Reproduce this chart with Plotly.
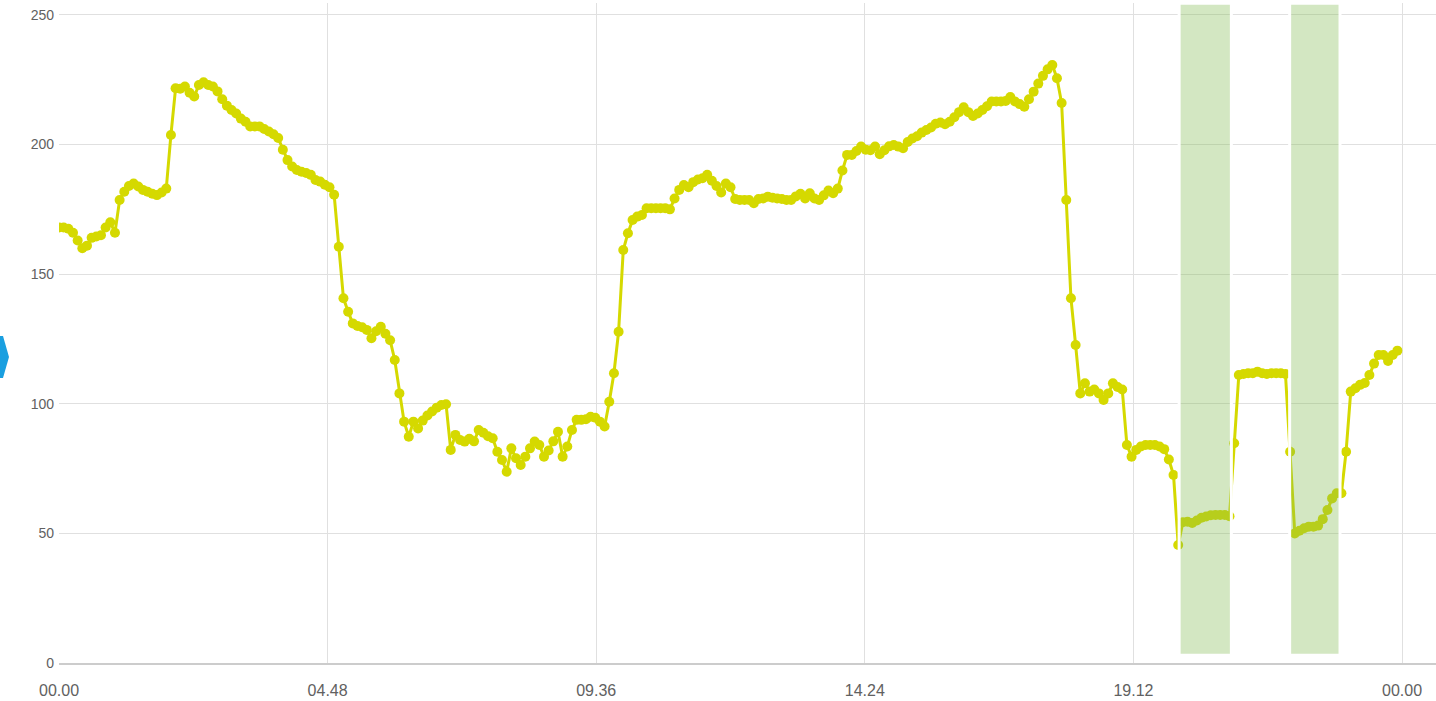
import pandas as pd
import plotly.graph_objects as go

# ---- data (5-minute readings, 00:00 .. 23:55) ----
start_time = "2024-01-01 00:00"
step = "5min"
values = [
    168, 168, 167.5, 166, 163, 160, 161, 164, 164.5, 165, 168, 170, 166, 178.6, 181.8, 184,
    185, 183.8, 182.5, 181.8, 181, 180.5, 181.5, 183, 203.7, 221.7, 221.5, 222.4, 220, 218.5,
    223, 224, 223, 222.4, 220.5, 217.5, 215, 213.3, 212, 210, 208.8, 207, 207, 207, 206, 205,
    204, 202.5, 198, 194, 191.5, 190.2, 189.5, 189, 188.3, 186.3, 185.7, 184.5, 183.5, 180.6,
    160.6, 140.7, 135.5, 131, 130, 129.5, 128.5, 125.3, 128, 129.7, 127, 124.5, 116.9, 104,
    93.1, 87.3, 93.1, 90.5, 93.5, 95.5, 97, 98.5, 99.5, 99.8, 82.2, 88, 86, 85.4, 86.5, 85.5,
    89.9, 88.8, 87.5, 86.7, 81.5, 78.3, 73.8, 82.8, 79, 76.4, 79.6, 82.8, 85.4, 84.1, 79.6,
    82, 85.5, 89.2, 79.6, 83.5, 89.9, 93.8, 93.8, 94, 95, 94.6, 93.1, 91.2, 100.8, 111.8,
    127.8, 159.3, 165.8, 170.9, 172.2, 172.8, 175.4, 175.4, 175.4, 175.4, 175.4, 175, 179.2,
    182.5, 184.4, 183.5, 185.5, 186.5, 187, 188.3, 186, 184, 181.5, 185, 183.5, 179, 178.6,
    178.6, 178.6, 177.4, 179, 179.2, 179.9, 179.5, 179.2, 179, 178.6, 178.6, 180, 181, 179.2,
    181.2, 179.2, 178.6, 180.4, 182.3, 181.2, 183, 190, 196, 196, 197.5, 199.2, 198, 197.8,
    199.2, 196.3, 197.8, 199.3, 199.8, 199.2, 198.6, 201, 202.3, 203.2, 204.6, 205.6, 206.6,
    208, 208.5, 207.8, 208.8, 210.5, 212.5, 214.4, 212.5, 211, 212, 213.3, 214.8, 216.6,
    216.6, 216.6, 216.8, 218.3, 216.6, 215.6, 214.6, 217.5, 220.4, 223.5, 226.5, 229, 230.7,
    225.6, 216, 178.6, 140.7, 122.7, 104, 107.9, 104.7, 105.5, 104, 101.5, 104, 107.9, 106.5,
    105.5, 84.1, 79.6, 82.2, 83.5, 84.1, 84.1, 84.1, 83.5, 82.5, 78.5, 72.5, 45.5, 54.3, 54.5,
    54, 55, 56, 56.5, 57, 57.1, 57.1, 57.1, 56.6, 84.8, 111.1, 111.5, 111.8, 111.8, 112.4,
    111.8, 111.5, 111.8, 111.8, 111.8, 111.5, 81.5, 50, 51, 52, 52.6, 52.6, 53, 55.5, 59,
    63.5, 65.5, 65.5, 81.5, 104.7, 106, 107.3, 108, 111.1, 115.5, 118.8, 118.8, 116.5, 118.8,
    120.5,
]
times = pd.date_range(start_time, periods=len(values), freq=step)

# highlighted periods
band_starts = ["2024-01-01 20:01:00", "2024-01-01 21:59:30"]
band_ends = ["2024-01-01 20:57:00", "2024-01-01 22:53:30"]
band_low, band_high = 3, 254.5

y_ticks = [0, 50, 100, 150, 200, 250]

# ---- styling ----
W, H = 1436, 701
ML, MR, MT, MB = 59, 0, 3, 38
YELLOW = "#d5d900"
GRID = "#e0e0e0"
TXT = "#616161"

fig = go.Figure()
fig.add_trace(go.Scatter(
    x=times, y=values, mode="lines+markers",
    line=dict(color=YELLOW, width=3),
    marker=dict(color=YELLOW, size=10),
    hoverinfo="x+y", showlegend=False,
))

for s, e in zip(band_starts, band_ends):
    fig.add_shape(type="rect", xref="x", yref="y", x0=s, x1=e, y0=band_low, y1=band_high,
                  fillcolor="rgba(130,185,80,0.35)", line=dict(color="white", width=3),
                  layer="above")

# blue navigation chevron at the left edge of the page
pw, ph = W - ML - MR, H - MT - MB
def px(xp, yp):
    return (xp - ML) / pw, (H - MB - yp) / ph
pts = [px(0, 336), px(3, 336), px(9, 357), px(3, 378), px(0, 378)]
path = "M " + " L ".join(f"{a:.5f},{b:.5f}" for a, b in pts) + " Z"
fig.add_shape(type="path", xref="paper", yref="paper", path=path,
              fillcolor="#1a9fe0", line=dict(width=0), layer="above")

x_end = pd.Timestamp(start_time) + pd.Timedelta(hours=pw / 55.96)
fig.update_layout(
    width=W, height=H,
    margin=dict(l=ML, r=MR, t=MT, b=MB),
    paper_bgcolor="white", plot_bgcolor="white",
    font=dict(family="Liberation Sans, Arial, sans-serif", color=TXT),
    xaxis=dict(
        type="date", range=[pd.Timestamp(start_time), x_end],
        tick0=start_time, dtick=4.8 * 3600 * 1000, tickformat="%H.%M",
        showgrid=True, gridcolor=GRID, gridwidth=1,
        showline=True, linecolor="#cccccc", linewidth=2,
        ticks="", ticklabelstandoff=12, tickfont=dict(size=16, color=TXT),
        zeroline=False,
    ),
    yaxis=dict(
        range=[0, 254.6], tickvals=y_ticks,
        showgrid=True, gridcolor=GRID, gridwidth=1,
        zeroline=False, showline=False,
        ticks="", ticklabelstandoff=4, tickfont=dict(size=14, color=TXT),
    ),
    hovermode="closest",
)

fig.write_html(
    "out.html",
    config={"displayModeBar": False},
    post_script="document.body.style.margin='0';document.body.style.overflow='hidden';",
)
